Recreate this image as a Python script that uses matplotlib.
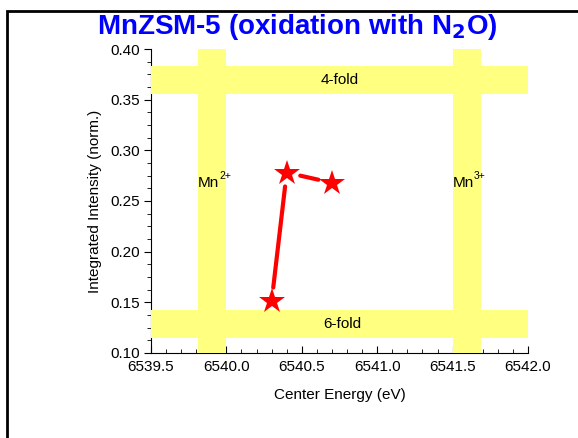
import matplotlib
matplotlib.use("Agg")
import matplotlib.pyplot as plt
from matplotlib.patches import Rectangle
from matplotlib.ticker import AutoMinorLocator, FormatStrFormatter

plt.rcParams['font.family'] = ['Liberation Sans', 'DejaVu Sans']

# data
energy = [6540.30, 6540.40, 6540.70]
intensity = [0.151, 0.278, 0.268]

# reference bands
mn2_band = (6539.81, 6540.0)
mn3_band = (6541.50, 6541.69)
fourfold_band = (0.356, 0.3835)
sixfold_band = (0.1145, 0.1425)

xticks = [6539.5, 6540.0, 6540.5, 6541.0, 6541.5, 6542.0]
yticks = [0.10, 0.15, 0.20, 0.25, 0.30, 0.35, 0.40]

fig = plt.figure(figsize=(5.78, 4.38), dpi=100)
ax = fig.add_axes([0.2612, 0.1941, 0.6523, 0.694])

yellow = '#ffff80'
ax.axvspan(*mn2_band, color=yellow, lw=0, zorder=3)
ax.axvspan(*mn3_band, color=yellow, lw=0, zorder=3)
ax.axhspan(*fourfold_band, color=yellow, lw=0, zorder=3)
ax.axhspan(*sixfold_band, color=yellow, lw=0, zorder=3)

# connecting line with gaps at the symbols (Origin style)
for i in range(len(energy) - 1):
    ax.annotate('', xy=(energy[i + 1], intensity[i + 1]), xytext=(energy[i], intensity[i]),
                arrowprops=dict(arrowstyle='-', color='red', lw=3, shrinkA=10, shrinkB=10),
                zorder=4)
ax.plot(energy, intensity, ls='none', marker='*', ms=19, color='red', mew=0, zorder=5)

fs = 11
ax.text(6540.75, sum(fourfold_band) / 2, '4-fold', ha='center', va='center', fontsize=fs, zorder=6)
ax.text(6540.77, sum(sixfold_band) / 2, '6-fold', ha='center', va='center', fontsize=fs, zorder=6)
for x0, sup in [(mn2_band[0], '2+'), (mn3_band[0], '3+')]:
    ax.text(x0, 0.268, 'Mn', ha='left', va='center', fontsize=fs, zorder=6)
    ax.annotate(sup, xy=(x0, 0.268), xytext=(15.5, 1), textcoords='offset points',
                ha='left', va='bottom', fontsize=7.5, zorder=6)

ax.set_xlim(6539.5, 6542.0)
ax.set_ylim(0.10, 0.40)
ax.set_xticks(xticks)
ax.set_yticks(yticks)
ax.xaxis.set_major_formatter(FormatStrFormatter('%.1f'))
ax.yaxis.set_major_formatter(FormatStrFormatter('%.2f'))
ax.xaxis.set_minor_locator(AutoMinorLocator(5))
ax.yaxis.set_minor_locator(AutoMinorLocator(4))
ax.tick_params(axis='x', which='major', direction='in', length=5, labelsize=fs, pad=5)
ax.tick_params(axis='x', which='minor', direction='in', length=3)
ax.tick_params(axis='y', which='major', direction='out', length=5, labelsize=fs, pad=3)
ax.tick_params(axis='y', which='minor', direction='out', length=3)

ax.spines['top'].set_visible(False)
ax.spines['right'].set_visible(False)

ax.set_xlabel('Center Energy (eV)', fontsize=fs, labelpad=10)
ax.set_ylabel('Integrated Intensity (norm.)', fontsize=fs, labelpad=6)

fig.text(0.515, 0.938, 'MnZSM-5 (oxidation with N$_\\mathbf{2}$O)', ha='center', va='center',
         color='#0000ff', fontsize=20, fontweight='bold')

# outer frame, cropped at right/bottom
fig.patches.append(Rectangle((6.5 / 578, -0.2), 1.2, 1.2 - 11 / 438, transform=fig.transFigure,
                             fill=False, edgecolor='black', lw=2, clip_on=False))

fig.savefig('out.png', dpi=100)
